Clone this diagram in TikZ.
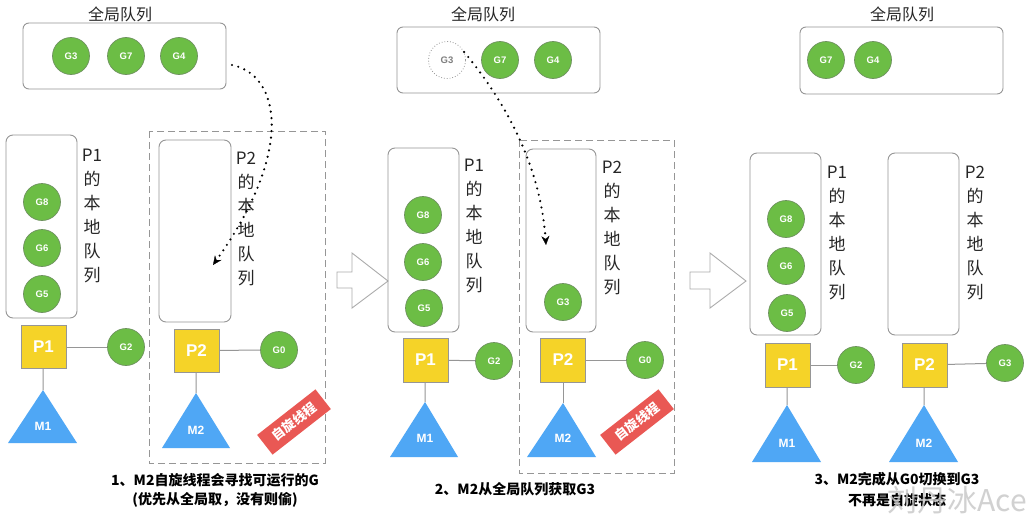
\documentclass[tikz,border=0pt]{standalone}
\usepackage{fontspec}
\setmainfont{Noto Sans CJK SC}
\newfontfamily\lat{Liberation Sans}
\usetikzlibrary{arrows.meta}
\definecolor{gfill}{RGB}{108,189,69}
\definecolor{gborder}{RGB}{110,145,95}
\definecolor{pyel}{RGB}{245,211,40}
\definecolor{mblue}{RGB}{79,167,245}
\definecolor{bred}{RGB}{233,88,84}
\definecolor{lgray}{RGB}{150,150,150}
\tikzset{
 gnode/.style={circle, fill=gfill, draw=gborder, line width=0.7pt, minimum size=37pt, inner sep=0pt, text=white, font=\lat\bfseries\fontsize{9.5}{10}\selectfont},
 gghost/.style={circle, draw=lgray, dotted, line width=0.8pt, minimum size=37pt, inner sep=0pt, text=gray, font=\lat\bfseries\fontsize{9.5}{10}\selectfont},
 pbox/.style={rectangle, fill=pyel, draw=lgray, line width=0.8pt, minimum width=45pt, minimum height=43pt, inner sep=0pt, text=white, font=\lat\bfseries\fontsize{17}{17}\selectfont},
 mtri/.style={fill=mblue},
 mlab/.style={text=white, font=\lat\bfseries\fontsize{12}{12}\selectfont, inner sep=0pt},
 gq/.style={draw=lgray, rounded corners=6pt, line width=0.9pt, minimum width=203pt, minimum height=66pt, inner sep=0pt},
 lq/.style={draw=lgray, rounded corners=7pt, line width=0.9pt, minimum width=71pt, minimum height=183pt, inner sep=0pt},
 vlab/.style={align=center, inner sep=0pt, anchor=north, font=\fontsize{17}{24}\selectfont, text=black!85},
 ttl/.style={font=\fontsize{16}{16}\selectfont, inner sep=0pt, text=black!85},
 captext/.style={font=\bfseries\fontsize{14}{19}\selectfont, align=center, inner sep=0pt},
 spinbox/.style={draw=lgray, line width=1pt, dash pattern=on 7pt off 4pt},
 banner/.style={fill=bred, text=white, rotate=38, minimum width=74pt, minimum height=25pt, inner sep=0pt, font=\bfseries\fontsize{13}{13}\selectfont},
 conn/.style={draw=lgray, line width=1pt},
 dotarrow/.style={line width=2.4pt, dash pattern=on 0pt off 6.5pt, line cap=round, -{Stealth[length=9pt,width=8pt,line width=0.3pt]}},
 hollow/.style={draw=lgray!80, fill=white, line width=0.9pt},
}
\begin{document}
\begin{tikzpicture}[x=1pt,y=-1pt]
\useasboundingbox[fill=white] (0,0) rectangle (1027,514);

% ---------- Panel 1 ----------
\draw[spinbox] (149,131) rectangle (325,463);
\node[ttl] (t1) at (120,14) {全局队列};
\node[gq] (gq1) at (124.5,56) {};
\node[gnode] (g3a) at (71,56) {G3};
\node[gnode] (g7a) at (126,56) {G7};
\node[gnode] (g4a) at (179,56) {G4};

\node[lq] (lq1a) at (41.5,226.5) {};
\node[vlab] (v1a) at (92,149) {P1\\的\\本\\地\\队\\列};
\node[gnode] (g8a) at (42,202) {G8};
\node[gnode] (g6a) at (42,248) {G6};
\node[gnode] (g5a) at (42,294) {G5};
\node[pbox] (p1a) at (43.5,347) {P1};
\node[gnode] (g2a) at (126,347) {G2};
\fill[mtri] (43,390) -- (77,443) -- (8,443) -- cycle;
\coordinate (m1atop) at (43,390);
\node[mlab] (m1a) at (43,426) {M1};
\draw[conn] (p1a) -- (g2a);
\draw[conn] (p1a) -- (m1atop);

\node[lq, minimum height=182pt, minimum width=72pt] (lq2a) at (195,231) {};
\node[vlab] (v2a) at (246,152) {P2\\的\\本\\地\\队\\列};
\node[pbox] (p2a) at (196.5,350.5) {P2};
\node[gnode] (g0a) at (279,350) {G0};
\fill[mtri] (196,393) -- (230,448) -- (162,448) -- cycle;
\coordinate (m2atop) at (196,393);
\node[mlab] (m2a) at (196,430) {M2};
\draw[conn] (p2a) -- (g0a);
\draw[conn] (p2a) -- (m2atop);
\node[banner] (b1) at (294,422) {自旋线程};

\coordinate (a1s) at (232,65);
\coordinate (a1e) at (213,265);
\draw[dotarrow] (a1s) .. controls (280,75) and (295,150) .. (a1e);

\node[captext] (c1) at (215,490) {1、M2自旋线程会寻找可运行的G\\(优先从全局取，没有则偷)};

% hollow arrow 1
\draw[hollow] (337,272) -- (352,272) -- (352,253) -- (388,281) -- (352,308) -- (352,288) -- (337,288) -- cycle;

% ---------- Panel 2 ----------
\draw[spinbox] (519,140) rectangle (674,473);
\node[ttl] (t2) at (483,14) {全局队列};
\node[gq] (gq2) at (498.5,60) {};
\node[gghost] (g3b) at (447,60) {G3};
\node[gnode] (g7b) at (500,60) {G7};
\node[gnode] (g4b) at (553,60) {G4};

\node[lq, minimum height=184pt] (lq1b) at (423.5,240) {};
\node[vlab] (v1b) at (474,159) {P1\\的\\本\\地\\队\\列};
\node[gnode] (g8b) at (423,215) {G8};
\node[gnode] (g6b) at (423,262) {G6};
\node[gnode] (g5b) at (424,308) {G5};
\node[pbox, minimum height=44pt] (p1b) at (425.5,360) {P1};
\node[gnode] (g2b) at (494,361) {G2};
\fill[mtri] (425,402) -- (458,457) -- (390,457) -- cycle;
\coordinate (m1btop) at (425,402);
\node[mlab] (m1b) at (425,438) {M1};
\draw[conn] (p1b) -- (g2b);
\draw[conn] (p1b) -- (m1btop);

\node[lq, minimum width=70pt] (lq2b) at (561,240.5) {};
\node[vlab] (v2b) at (612,161) {P2\\的\\本\\地\\队\\列};
\node[gnode] (g3c) at (563,302) {G3};
\node[pbox, minimum height=44pt] (p2b) at (563,360) {P2};
\node[gnode] (g0b) at (645,360) {G0};
\fill[mtri] (563,403) -- (596,457) -- (527,457) -- cycle;
\coordinate (m2btop) at (563,403);
\node[mlab] (m2b) at (563,438) {M2};
\draw[conn] (p2b) -- (g0b);
\draw[conn] (p2b) -- (m2btop);
\node[banner] (b2) at (637,422) {自旋线程};

\coordinate (a2e) at (546,245);
\draw[dotarrow] (g3b.25) .. controls (500,95) and (540,160) .. (a2e);

\node[captext] (c2) at (515,489) {2、M2从全局队列获取G3};

% hollow arrow 2
\draw[hollow] (690,272) -- (710,272) -- (710,253) -- (746,281) -- (710,308) -- (710,289) -- (690,289) -- cycle;

% ---------- Panel 3 ----------
\node[ttl] (t3) at (902,14) {全局队列};
\node[gq, minimum height=67pt] (gq3) at (901.5,60.5) {};
\node[gnode] (g7c) at (826,60) {G7};
\node[gnode] (g4c) at (873,60) {G4};

\node[lq, minimum height=182pt] (lq1c) at (785.5,244) {};
\node[vlab] (v1c) at (837,166) {P1\\的\\本\\地\\队\\列};
\node[gnode] (g8c) at (786,219) {G8};
\node[gnode] (g6c) at (786,266) {G6};
\node[gnode] (g5c) at (787,313) {G5};
\node[pbox, minimum height=44pt] (p1c) at (787.5,365) {P1};
\node[gnode] (g2c) at (856,365) {G2};
\fill[mtri] (787,405) -- (821,462) -- (752,462) -- cycle;
\coordinate (m1ctop) at (787,405);
\node[mlab] (m1c) at (787,443) {M1};
\draw[conn] (p1c) -- (g2c);
\draw[conn] (p1c) -- (m1ctop);

\node[lq, minimum height=182pt] (lq2c) at (923.5,244) {};
\node[vlab] (v2c) at (975,166) {P2\\的\\本\\地\\队\\列};
\node[pbox, minimum height=44pt] (p2c) at (924.5,365) {P2};
\node[gnode] (g3d) at (1005,363) {G3};
\fill[mtri] (924,405) -- (958,462) -- (889,462) -- cycle;
\coordinate (m2ctop) at (924,405);
\node[mlab] (m2c) at (924,443) {M2};
\draw[conn] (p2c) -- (g3d);
\draw[conn] (p2c) -- (m2ctop);

\node[captext, font=\bfseries\fontsize{14}{21}\selectfont] (c3) at (897,489.5) {3、M2完成从G0切换到G3\\不再是自旋状态};

% watermark
\node[inner sep=0pt, text=gray!45, text opacity=0.8, font=\fontsize{30}{30}\selectfont] (wm) at (957,500) {刘丹冰Ace};
\end{tikzpicture}
\end{document}
